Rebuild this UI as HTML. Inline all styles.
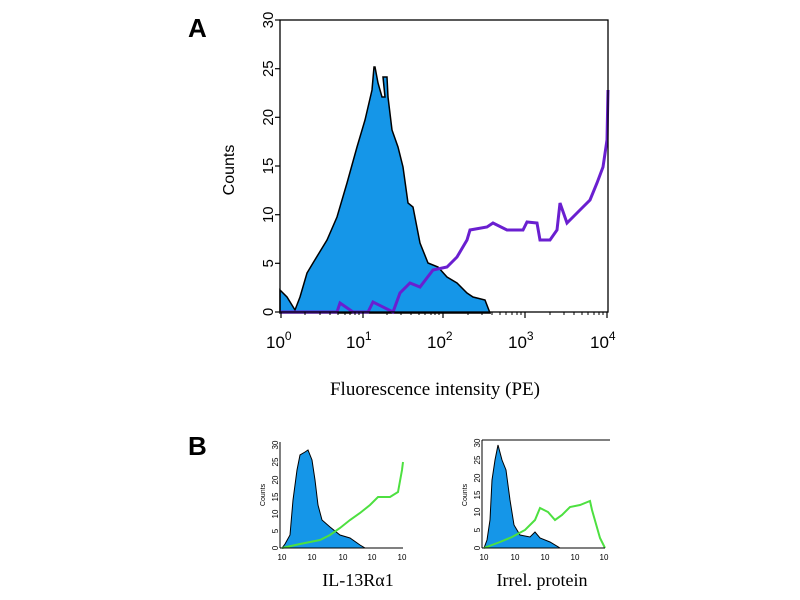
<!DOCTYPE html>
<html><head><style>body{margin:0;background:#fff}svg{display:block}</style></head><body>
<svg width="800" height="600" xmlns="http://www.w3.org/2000/svg" font-family="Liberation Sans, sans-serif">
<rect width="800" height="600" fill="#fff"/>
<text x="188" y="37" font-size="26" font-weight="bold">A</text>
<text x="188" y="455" font-size="26" font-weight="bold">B</text>
<!-- main plot -->
<polygon fill="#1596e8" stroke="#000" stroke-width="1.5" points="280,312 280,290 287,297 295,310 300,297 307,273 313,263 327,240 337,217 347,183 357,147 365,120 372,90 374,67 375,67 378,83 382,97 385,97 383,77 387,77 388,97 392,130 398,147 403,167 408,203 413,207 420,243 428,263 438,267 447,277 457,283 467,293 473,297 485,300 490,313 280,313"/>
<polyline fill="none" stroke="#6a1fd0" stroke-width="3" points="280,312 337,312 340,303 353,312 368,312 373,302 393,312 400,293 410,283 420,287 433,270 447,267 457,257 467,240 470,230 487,227 493,223 507,230 523,230 527,222 537,223 540,240 550,240 557,230 560,203 567,223 577,213 583,207 590,200 597,183 603,167 607,140 608,90"/>
<rect x="280" y="20" width="328" height="292" fill="none" stroke="#000" stroke-width="1.3"/>
<g stroke="#000" stroke-width="1.2">
<line x1="275" y1="20" x2="280" y2="20"/><line x1="275" y1="68.7" x2="280" y2="68.7"/><line x1="275" y1="117.3" x2="280" y2="117.3"/><line x1="275" y1="166" x2="280" y2="166"/><line x1="275" y1="214.7" x2="280" y2="214.7"/><line x1="275" y1="263.3" x2="280" y2="263.3"/><line x1="275" y1="312" x2="280" y2="312"/>
<line x1="281" y1="312" x2="281" y2="318"/><line x1="363" y1="312" x2="363" y2="318"/><line x1="443" y1="312" x2="443" y2="318"/><line x1="525" y1="312" x2="525" y2="318"/><line x1="607" y1="312" x2="607" y2="318"/>
</g>
<g stroke="#000" stroke-width="1" id="minx">
<line x1="305" y1="312" x2="305" y2="315"/><line x1="320" y1="312" x2="320" y2="315"/><line x1="330" y1="312" x2="330" y2="315"/><line x1="338" y1="312" x2="338" y2="315"/><line x1="345" y1="312" x2="345" y2="315"/><line x1="350" y1="312" x2="350" y2="315"/><line x1="355" y1="312" x2="355" y2="315"/><line x1="359" y1="312" x2="359" y2="315"/>
<line x1="387" y1="312" x2="387" y2="315"/><line x1="401" y1="312" x2="401" y2="315"/><line x1="411" y1="312" x2="411" y2="315"/><line x1="419" y1="312" x2="419" y2="315"/><line x1="425" y1="312" x2="425" y2="315"/><line x1="431" y1="312" x2="431" y2="315"/><line x1="435" y1="312" x2="435" y2="315"/><line x1="439" y1="312" x2="439" y2="315"/>
<line x1="468" y1="312" x2="468" y2="315"/><line x1="482" y1="312" x2="482" y2="315"/><line x1="492" y1="312" x2="492" y2="315"/><line x1="500" y1="312" x2="500" y2="315"/><line x1="506" y1="312" x2="506" y2="315"/><line x1="512" y1="312" x2="512" y2="315"/><line x1="517" y1="312" x2="517" y2="315"/><line x1="521" y1="312" x2="521" y2="315"/>
<line x1="550" y1="312" x2="550" y2="315"/><line x1="564" y1="312" x2="564" y2="315"/><line x1="574" y1="312" x2="574" y2="315"/><line x1="582" y1="312" x2="582" y2="315"/><line x1="588" y1="312" x2="588" y2="315"/><line x1="594" y1="312" x2="594" y2="315"/><line x1="599" y1="312" x2="599" y2="315"/><line x1="603" y1="312" x2="603" y2="315"/>
</g>
<g font-size="15" text-anchor="middle">
<text transform="translate(268,20) rotate(-90)" dy="5">30</text>
<text transform="translate(268,68.7) rotate(-90)" dy="5">25</text>
<text transform="translate(268,117.3) rotate(-90)" dy="5">20</text>
<text transform="translate(268,166) rotate(-90)" dy="5">15</text>
<text transform="translate(268,214.7) rotate(-90)" dy="5">10</text>
<text transform="translate(268,263.3) rotate(-90)" dy="5">5</text>
<text transform="translate(268,312) rotate(-90)" dy="5">0</text>
<text transform="translate(234,170) rotate(-90)" font-size="16">Counts</text>
</g>
<g font-size="17">
<text x="266" y="348">10<tspan font-size="12" dy="-8">0</tspan></text>
<text x="346" y="348">10<tspan font-size="12" dy="-8">1</tspan></text>
<text x="427" y="348">10<tspan font-size="12" dy="-8">2</tspan></text>
<text x="508" y="348">10<tspan font-size="12" dy="-8">3</tspan></text>
<text x="590" y="348">10<tspan font-size="12" dy="-8">4</tspan></text>
</g>
<text x="435" y="395" font-size="19" text-anchor="middle" font-family="Liberation Serif, serif">Fluorescence intensity (PE)</text>
<!-- B left -->
<polygon fill="#1596e8" stroke="#000" stroke-width="1" points="282,548 285,544 290,535 293,500 297,470 300,455 305,452 308,450 312,460 315,480 318,505 322,520 330,527 340,535 350,538 360,545 365,548"/>
<polyline fill="none" stroke="#4de040" stroke-width="2" points="282,548 300,544 320,540 330,535 340,528 350,520 360,513 370,505 378,497 390,497 398,492 402,470 403,462"/>
<line x1="280" y1="442" x2="280" y2="548" stroke="#000"/><line x1="280" y1="548" x2="403" y2="548" stroke="#000"/>
<g font-size="8" text-anchor="middle">
<text transform="translate(275,445) rotate(-90)" dy="3">30</text><text transform="translate(275,462) rotate(-90)" dy="3">25</text><text transform="translate(275,480) rotate(-90)" dy="3">20</text><text transform="translate(275,497) rotate(-90)" dy="3">15</text><text transform="translate(275,514) rotate(-90)" dy="3">10</text><text transform="translate(275,531) rotate(-90)" dy="3">5</text><text transform="translate(275,548) rotate(-90)" dy="3">0</text>
<text transform="translate(262,495) rotate(-90)" dy="3" font-size="7">Counts</text>
<text x="282" y="560">10</text><text x="312" y="560">10</text><text x="343" y="560">10</text><text x="372" y="560">10</text><text x="402" y="560">10</text>
</g>
<text x="358" y="586" font-size="18" text-anchor="middle" font-family="Liberation Serif, serif">IL-13Rα1</text>
<!-- B right -->
<polygon fill="#1596e8" stroke="#000" stroke-width="1" points="484,548 487,540 490,520 492,480 495,460 498,445 502,460 506,470 510,500 514,525 520,535 530,537 535,532 540,538 550,542 560,548"/>
<polyline fill="none" stroke="#4de040" stroke-width="2" points="484,548 500,542 512,537 525,530 535,520 540,508 548,512 555,520 562,515 570,507 580,505 590,501 592,510 600,538 605,548"/>
<line x1="482" y1="440" x2="482" y2="548" stroke="#000"/><line x1="482" y1="548" x2="605" y2="548" stroke="#000"/><line x1="482" y1="440" x2="610" y2="440" stroke="#000"/>
<g font-size="8" text-anchor="middle">
<text transform="translate(477,443) rotate(-90)" dy="3">30</text><text transform="translate(477,460) rotate(-90)" dy="3">25</text><text transform="translate(477,478) rotate(-90)" dy="3">20</text><text transform="translate(477,495) rotate(-90)" dy="3">15</text><text transform="translate(477,512) rotate(-90)" dy="3">10</text><text transform="translate(477,530) rotate(-90)" dy="3">5</text><text transform="translate(477,548) rotate(-90)" dy="3">0</text>
<text transform="translate(464,495) rotate(-90)" dy="3" font-size="7">Counts</text>
<text x="484" y="560">10</text><text x="515" y="560">10</text><text x="545" y="560">10</text><text x="575" y="560">10</text><text x="604" y="560">10</text>
</g>
<text x="542" y="586" font-size="18" text-anchor="middle" font-family="Liberation Serif, serif">Irrel. protein</text>
</svg>
</body></html>
